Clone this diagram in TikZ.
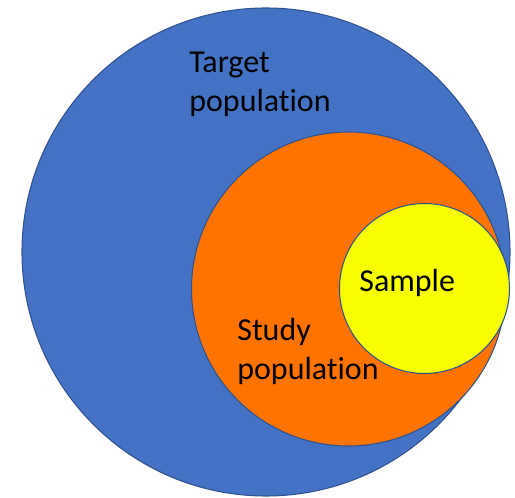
\documentclass[tikz,border=0pt]{standalone}
\usepackage{fontspec}
\setmainfont{Carlito}[Ligatures={NoCommon}]
\usepackage{tikz}
\usetikzlibrary{positioning}

\definecolor{popblue}{HTML}{4472C4}
\definecolor{poporange}{HTML}{FF7400}
\definecolor{popyellow}{HTML}{F7FF00}
\definecolor{popline}{HTML}{2F528F}

\begin{document}
\begin{tikzpicture}[every node/.style={font=\fontsize{18.2}{22.2}\selectfont},
  set/.style={draw=popline, line width=0.6pt, circle, inner sep=0pt},
  label/.style={align=left, inner sep=0pt, anchor=base west}]
  \useasboundingbox (0,0) rectangle (10.3,9.96);

  % Target population - outer circle
  \node[set, fill=popblue, minimum size=9.76cm] (target) at (5.32, 4.92) {};

  % Study population
  \node[set, fill=poporange, minimum size=6.28cm] (study) at (6.97, 4.18) {};

  % Sample
  \node[set, fill=popyellow, minimum size=3.40cm] (sample) at (8.49, 4.19) {};

  % labels (base = last line)
  \node[label] (targettext) at (3.78, 7.72) {Target\\population};
  \node[label] (studytext) at (4.74, 2.36) {Study\\population};
  \node[label] (sampletext) at (7.18, 4.12) {Sample};
\end{tikzpicture}
\end{document}
